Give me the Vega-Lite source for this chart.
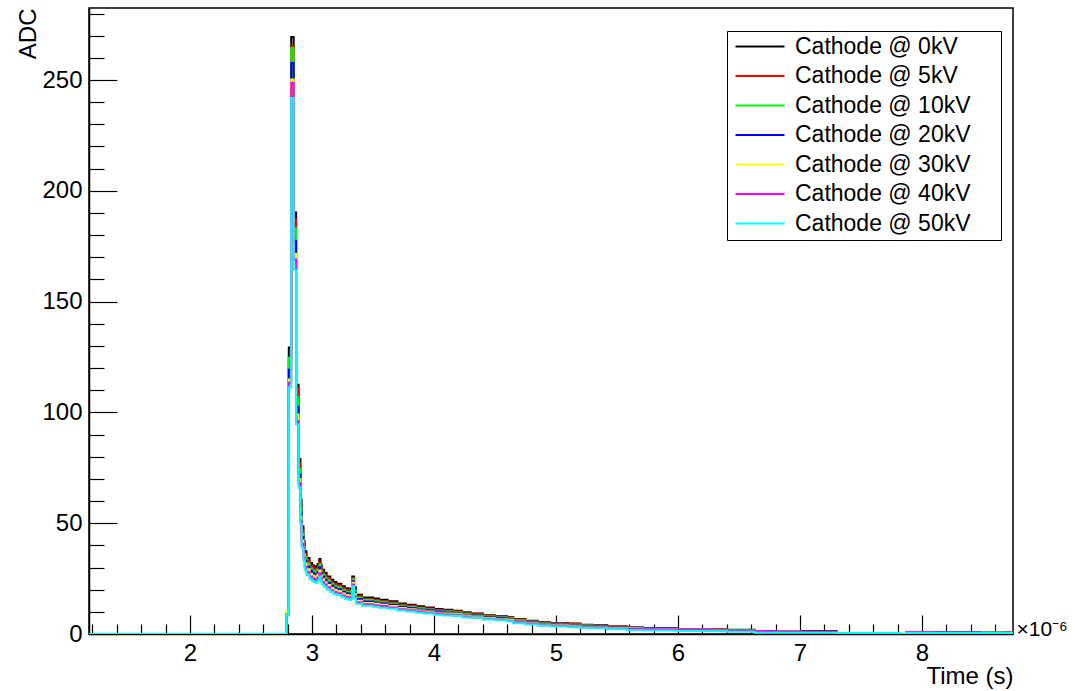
{
  "$schema": "https://vega.github.io/schema/vega-lite/v6.json",
  "width": 924,
  "height": 626,
  "autosize": {"type": "none"},
  "padding": {"left": 89, "top": 8, "right": 62, "bottom": 57},
  "background": "white",
  "config": {
    "font": "Liberation Sans",
    "view": {"stroke": "black", "strokeWidth": 1.5},
    "axis": {
      "labelFont": "Liberation Sans", "titleFont": "Liberation Sans",
      "labelColor": "black", "titleColor": "black", "tickColor": "black", "domainColor": "black",
      "grid": false, "labelFontSize": 24, "titleFontSize": 24, "titleFontWeight": "normal",
      "tickWidth": 1.2, "domainWidth": 1.5
    },
    "legend": {"labelFont": "Liberation Sans"}
  },
  "data": {"values": [
    {"t":1.1725,"0kV":0,"5kV":0,"10kV":0,"20kV":0,"30kV":0,"40kV":0,"50kV":0},
    {"t":2.79,"0kV":9,"5kV":9,"10kV":9.5,"20kV":9.5,"30kV":10,"40kV":8.5,"50kV":8.5},
    {"t":2.81,"0kV":129.3,"5kV":124.5,"10kV":124.7,"20kV":119.3,"30kV":114.8,"40kV":113.4,"50kV":111.2},
    {"t":2.83,"0kV":269.4,"5kV":265.2,"10kV":264.5,"20kV":257.7,"30kV":250.2,"40kV":248.7,"50kV":241.9},
    {"t":2.85,"0kV":190.2,"5kV":187.4,"10kV":183,"20kV":177.5,"30kV":171.6,"40kV":169,"50kV":164.4},
    {"t":2.87,"0kV":112.5,"5kV":111,"10kV":106.7,"20kV":102.6,"30kV":99,"40kV":96,"50kV":94.5},
    {"t":2.89,"0kV":79,"5kV":77,"10kV":74.5,"20kV":72,"30kV":70,"40kV":68,"50kV":66},
    {"t":2.905,"0kV":60.6,"5kV":58.6,"10kV":56.8,"20kV":54.8,"30kV":53,"40kV":51.2,"50kV":49.5},
    {"t":2.915,"0kV":48.6,"5kV":47,"10kV":45.4,"20kV":43.8,"30kV":42.2,"40kV":40.6,"50kV":39},
    {"t":2.93,"0kV":42,"5kV":40.5,"10kV":39,"20kV":37.5,"30kV":36,"40kV":34.5,"50kV":33.3},
    {"t":2.94,"0kV":37.3,"5kV":35.9,"10kV":34.6,"20kV":33.2,"30kV":31.8,"40kV":30.4,"50kV":29},
    {"t":2.955,"0kV":34.3,"5kV":33,"10kV":31.8,"20kV":30.5,"30kV":29.2,"40kV":27.9,"50kV":26.6},
    {"t":2.98,"0kV":32,"5kV":30.8,"10kV":29.6,"20kV":28.5,"30kV":27.2,"40kV":26,"50kV":24.7},
    {"t":3.0,"0kV":31,"5kV":29.8,"10kV":28.7,"20kV":27.6,"30kV":26.4,"40kV":25.1,"50kV":23.9},
    {"t":3.015,"0kV":30.5,"5kV":29.3,"10kV":28.2,"20kV":27.1,"30kV":25.9,"40kV":24.7,"50kV":23.5},
    {"t":3.03,"0kV":30,"5kV":28.8,"10kV":27.8,"20kV":26.7,"30kV":25.5,"40kV":24.3,"50kV":23.1},
    {"t":3.045,"0kV":31.5,"5kV":30.2,"10kV":29.1,"20kV":28,"30kV":26.8,"40kV":25.5,"50kV":24.3},
    {"t":3.06,"0kV":33.8,"5kV":32.4,"10kV":31.3,"20kV":30.1,"30kV":28.7,"40kV":27.4,"50kV":26},
    {"t":3.07,"0kV":31,"5kV":29.8,"10kV":28.7,"20kV":27.6,"30kV":26.4,"40kV":25.1,"50kV":23.9},
    {"t":3.08,"0kV":29,"5kV":27.8,"10kV":26.8,"20kV":25.8,"30kV":24.7,"40kV":23.5,"50kV":22.3},
    {"t":3.1,"0kV":27.5,"5kV":26.4,"10kV":25.4,"20kV":24.5,"30kV":23.4,"40kV":22.3,"50kV":21.2},
    {"t":3.12,"0kV":26,"5kV":25,"10kV":24,"20kV":23.1,"30kV":22.1,"40kV":21.1,"50kV":20},
    {"t":3.15,"0kV":24.5,"5kV":23.5,"10kV":22.7,"20kV":21.8,"30kV":20.8,"40kV":19.8,"50kV":18.9},
    {"t":3.175,"0kV":23.5,"5kV":22.6,"10kV":21.7,"20kV":20.9,"30kV":20,"40kV":19,"50kV":18.1},
    {"t":3.2,"0kV":22.7,"5kV":21.8,"10kV":21,"20kV":20.2,"30kV":19.3,"40kV":18.4,"50kV":17.5},
    {"t":3.24,"0kV":21.5,"5kV":20.6,"10kV":19.9,"20kV":19.1,"30kV":18.3,"40kV":17.4,"50kV":16.6},
    {"t":3.27,"0kV":20.7,"5kV":19.9,"10kV":19.1,"20kV":18.4,"30kV":17.6,"40kV":16.8,"50kV":15.9},
    {"t":3.3,"0kV":20,"5kV":19.2,"10kV":18.5,"20kV":17.8,"30kV":17,"40kV":16.2,"50kV":15.4},
    {"t":3.32,"0kV":20.5,"5kV":19.7,"10kV":19,"20kV":18.2,"30kV":17.4,"40kV":16.6,"50kV":15.8},
    {"t":3.33,"0kV":26,"5kV":25.3,"10kV":24.6,"20kV":23.8,"30kV":23.1,"40kV":22.3,"50kV":21.5},
    {"t":3.345,"0kV":21,"5kV":20.2,"10kV":19.4,"20kV":18.7,"30kV":17.9,"40kV":17,"50kV":16.2},
    {"t":3.36,"0kV":17.7,"5kV":17,"10kV":16.4,"20kV":15.8,"30kV":15,"40kV":14.3,"50kV":13.6},
    {"t":3.41,"0kV":16.5,"5kV":15.8,"10kV":15.3,"20kV":14.7,"30kV":14,"40kV":13.4,"50kV":12.7},
    {"t":3.5,"0kV":16,"5kV":15.4,"10kV":14.8,"20kV":14.2,"30kV":13.6,"40kV":13,"50kV":12.3},
    {"t":3.55,"0kV":15.5,"5kV":14.9,"10kV":14.3,"20kV":13.8,"30kV":13.2,"40kV":12.6,"50kV":11.9},
    {"t":3.62,"0kV":14.8,"5kV":14.2,"10kV":13.7,"20kV":13.2,"30kV":12.6,"40kV":12,"50kV":11.4},
    {"t":3.7,"0kV":13.8,"5kV":13.2,"10kV":12.8,"20kV":12.3,"30kV":11.7,"40kV":11.2,"50kV":10.6},
    {"t":3.77,"0kV":13.2,"5kV":12.7,"10kV":12.2,"20kV":11.7,"30kV":11.2,"40kV":10.7,"50kV":10.2},
    {"t":3.85,"0kV":12.5,"5kV":12,"10kV":11.6,"20kV":11.1,"30kV":10.6,"40kV":10.1,"50kV":9.6},
    {"t":3.92,"0kV":12,"5kV":11.5,"10kV":11.1,"20kV":10.7,"30kV":10.2,"40kV":9.7,"50kV":9.2},
    {"t":4.0,"0kV":11.3,"5kV":10.8,"10kV":10.5,"20kV":10.1,"30kV":9.6,"40kV":9.2,"50kV":8.7},
    {"t":4.07,"0kV":10.9,"5kV":10.5,"10kV":10.1,"20kV":9.7,"30kV":9.3,"40kV":8.8,"50kV":8.4},
    {"t":4.15,"0kV":10.5,"5kV":10.1,"10kV":9.7,"20kV":9.3,"30kV":8.9,"40kV":8.5,"50kV":8.1},
    {"t":4.23,"0kV":9.8,"5kV":9.4,"10kV":9.1,"20kV":8.7,"30kV":8.3,"40kV":7.9,"50kV":7.5},
    {"t":4.3,"0kV":9.3,"5kV":8.9,"10kV":8.6,"20kV":8.3,"30kV":7.9,"40kV":7.5,"50kV":7.2},
    {"t":4.4,"0kV":8.5,"5kV":8.2,"10kV":7.9,"20kV":7.6,"30kV":7.2,"40kV":6.9,"50kV":6.5},
    {"t":4.5,"0kV":8,"5kV":7.7,"10kV":7.4,"20kV":7.1,"30kV":6.8,"40kV":6.5,"50kV":6.2},
    {"t":4.6,"0kV":7.6,"5kV":7.3,"10kV":7,"20kV":6.7,"30kV":6.4,"40kV":6,"50kV":5.6},
    {"t":4.65,"0kV":6.8,"5kV":6.5,"10kV":6.2,"20kV":5.9,"30kV":5.6,"40kV":5.3,"50kV":4.9},
    {"t":4.75,"0kV":6,"5kV":5.7,"10kV":5.5,"20kV":5.2,"30kV":4.9,"40kV":4.6,"50kV":4.3},
    {"t":4.85,"0kV":5.3,"5kV":5.1,"10kV":4.8,"20kV":4.6,"30kV":4.3,"40kV":4,"50kV":3.7},
    {"t":4.95,"0kV":5,"5kV":4.8,"10kV":4.5,"20kV":4.3,"30kV":4,"40kV":3.7,"50kV":3.4},
    {"t":5.1,"0kV":4.7,"5kV":4.5,"10kV":4.2,"20kV":4,"30kV":3.7,"40kV":3.4,"50kV":3.1},
    {"t":5.2,"0kV":4.2,"5kV":4,"10kV":3.8,"20kV":3.5,"30kV":3.3,"40kV":3,"50kV":2.7},
    {"t":5.3,"0kV":4,"5kV":3.8,"10kV":3.6,"20kV":3.4,"30kV":3.1,"40kV":2.9,"50kV":2.6},
    {"t":5.42,"0kV":3.4,"5kV":3.4,"10kV":3.1,"20kV":2.9,"30kV":2.7,"40kV":2.5,"50kV":2.2},
    {"t":5.58,"0kV":3.2,"5kV":3.1,"10kV":2.9,"20kV":2.8,"30kV":2.6,"40kV":2.4,"50kV":1.7},
    {"t":5.71,"0kV":2.7,"5kV":2.6,"10kV":2.5,"20kV":2.5,"30kV":2.3,"40kV":2.2,"50kV":1.6},
    {"t":5.99,"0kV":2.3,"5kV":2.3,"10kV":2.1,"20kV":2,"30kV":1.9,"40kV":1.9,"50kV":1.3},
    {"t":6.26,"0kV":2.2,"5kV":2.3,"10kV":2,"20kV":1.9,"30kV":1.8,"40kV":1.7,"50kV":1.2},
    {"t":6.4,"0kV":1.9,"5kV":1.8,"10kV":1.7,"20kV":1.6,"30kV":1.5,"40kV":1.4,"50kV":1},
    {"t":6.63,"0kV":1.1,"5kV":1.1,"10kV":1.1,"20kV":1.1,"30kV":1,"40kV":1.3,"50kV":0.6},
    {"t":6.7,"0kV":1.1,"5kV":1.1,"10kV":1.1,"20kV":1.3,"30kV":1,"40kV":1.1,"50kV":0.6},
    {"t":6.8,"0kV":1.1,"5kV":1.1,"10kV":1.3,"20kV":1.1,"30kV":1,"40kV":1,"50kV":0.6},
    {"t":6.88,"0kV":1.1,"5kV":1.3,"10kV":1.1,"20kV":1,"30kV":1,"40kV":1,"50kV":0.6},
    {"t":7.0,"0kV":1.3,"5kV":1.1,"10kV":1,"20kV":1,"30kV":0.9,"40kV":0.9,"50kV":0.6},
    {"t":7.3,"0kV":0.5,"5kV":0.5,"10kV":0.5,"20kV":0.5,"30kV":0.5,"40kV":0.5,"50kV":0.5},
    {"t":7.82,"0kV":0,"5kV":0,"10kV":0,"20kV":0,"30kV":0,"40kV":0,"50kV":0},
    {"t":7.87,"0kV":0.6,"5kV":0.6,"10kV":0.6,"20kV":0.6,"30kV":0.6,"40kV":0.8,"50kV":0.4},
    {"t":8.1,"0kV":0.6,"5kV":0.6,"10kV":0.6,"20kV":0.8,"30kV":0.6,"40kV":0.6,"50kV":0.4},
    {"t":8.48,"0kV":0.6,"5kV":0.6,"10kV":0.8,"20kV":0.6,"30kV":0.6,"40kV":0.6,"50kV":0.4},
    {"t":8.67,"0kV":0.6,"5kV":0.8,"10kV":0.6,"20kV":0.6,"30kV":0.6,"40kV":0.6,"50kV":0.4},
    {"t":8.7456,"0kV":0.6,"5kV":0.8,"10kV":0.6,"20kV":0.6,"30kV":0.6,"40kV":0.6,"50kV":0.4}
  ]},
  "transform": [
    {"fold": ["0kV", "5kV", "10kV", "20kV", "30kV", "40kV", "50kV"], "as": ["series", "adc"]}
  ],
  "layer": [
    {
      "mark": {"type": "line", "interpolate": "step-after", "strokeWidth": 2, "clip": true},
      "encoding": {
        "x": {
          "field": "t", "type": "quantitative",
          "scale": {"domain": [1.1725, 8.7456], "nice": false, "zero": false},
          "axis": {
            "orient": "bottom", "values": [2, 3, 4, 5, 6, 7, 8], "format": "d",
            "tickSize": -19, "labelPadding": 26,
            "title": "Time (s)", "titleX": 924, "titleY": 49, "titleAlign": "right", "titleBaseline": "alphabetic"
          }
        },
        "y": {
          "field": "adc", "type": "quantitative",
          "scale": {"domain": [0, 282.5], "nice": false},
          "axis": {
            "orient": "left", "values": [0, 50, 100, 150, 200, 250], "format": "d",
            "tickSize": -28, "labelPadding": 35,
            "title": "ADC", "titleX": -54, "titleY": 0, "titleAlign": "right", "titleAngle": 270, "titleBaseline": "alphabetic"
          }
        },
        "color": {
          "field": "series", "type": "nominal",
          "scale": {
            "domain": ["0kV", "5kV", "10kV", "20kV", "30kV", "40kV", "50kV"],
            "range": ["#000000", "#ff0000", "#00ff00", "#0000ff", "#ffff00", "#ff00ff", "#00ffff"]
          },
          "legend": {
            "orient": "none", "legendX": 638, "legendY": 23, "title": null,
            "strokeColor": "black", "fillColor": "white", "padding": 4,
            "symbolType": "M-1,0H6", "symbolSize": 196, "symbolStrokeWidth": 2,
            "labelFontSize": 23, "labelColor": "black", "labelOffset": 41, "rowPadding": 5.5, "labelLimit": 0,
            "labelExpr": "'Cathode @ ' + datum.label + '\u00a0\u00a0\u00a0\u00a0\u200b'"
          }
        }
      }
    },
    {
      "mark": {"type": "line", "opacity": 0},
      "encoding": {
        "x": {
          "field": "t", "type": "quantitative",
          "axis": {
            "orient": "bottom",
            "values": [1.2, 1.4, 1.6, 1.8, 2.2, 2.4, 2.6, 2.8, 3.2, 3.4, 3.6, 3.8, 4.2, 4.4, 4.6, 4.8, 5.2, 5.4, 5.6, 5.8, 6.2, 6.4, 6.6, 6.8, 7.2, 7.4, 7.6, 7.8, 8.2, 8.4, 8.6],
            "tickSize": -10, "labels": false, "domain": false,
            "title": "×10⁻⁶", "titleX": 927, "titleY": 1, "titleAlign": "left", "titleBaseline": "alphabetic", "titleFontSize": 21
          }
        },
        "y": {
          "field": "adc", "type": "quantitative",
          "axis": {
            "orient": "left",
            "values": [10, 20, 30, 40, 60, 70, 80, 90, 110, 120, 130, 140, 160, 170, 180, 190, 210, 220, 230, 240, 260, 270, 280],
            "tickSize": -15, "labels": false, "domain": false, "title": null
          }
        }
      }
    }
  ],
  "resolve": {"axis": {"x": "independent", "y": "independent"}}
}
